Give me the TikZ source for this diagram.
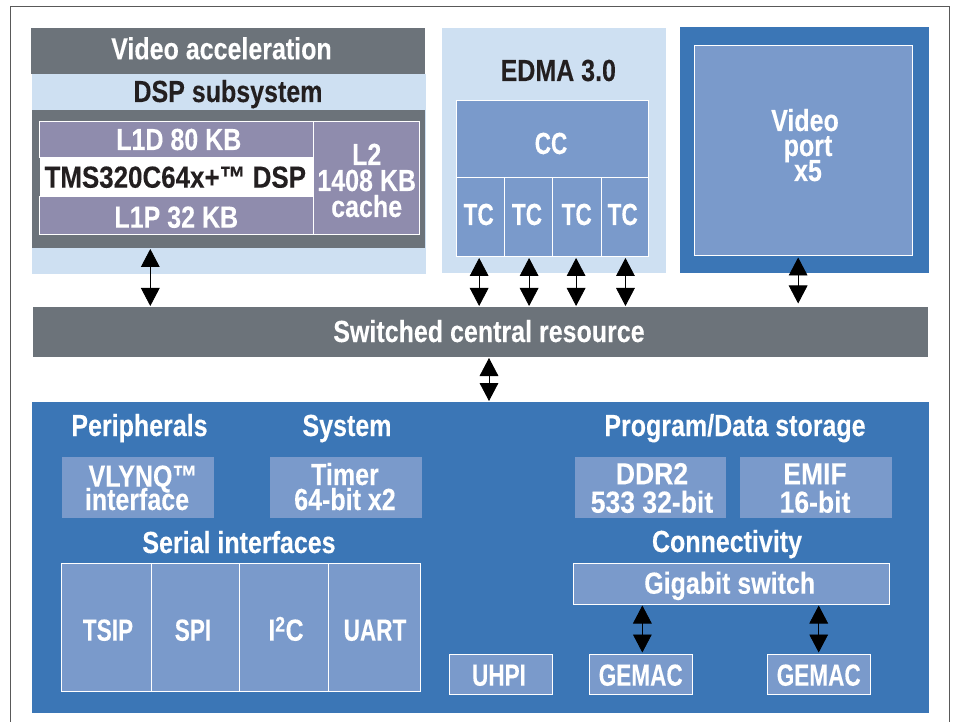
\documentclass[tikz,border=0pt]{standalone}
\usepackage{fontspec}
\usetikzlibrary{arrows.meta}
\newfontfamily\hv[FakeStretch=0.82,FakeBold=0.15]{Liberation Sans}
\newfontfamily\hvn[FakeStretch=0.74,FakeBold=0.15]{Liberation Sans}
\newfontfamily\hvw[FakeStretch=0.87,FakeBold=0.15]{Liberation Sans}
\newfontfamily\hvt[FakeStretch=0.85,FakeBold=0.15]{Liberation Sans}
\definecolor{greyb}{HTML}{6C737A}
\definecolor{lightb}{HTML}{CEE0F2}
\definecolor{deepb}{HTML}{3B76B6}
\definecolor{midb}{HTML}{7A9ACB}
\definecolor{purp}{HTML}{8F8CAD}
\definecolor{ink}{HTML}{231F20}
\newcommand\boxn[6]{\node[#2,minimum width={(#5-#3)*1pt},minimum height={(#6-#4)*1pt}] (#1) at ({(#3+#5)/2},{(#4+#6)/2}) {};}
\lineskiplimit=-100pt
\tikzset{
  x=1pt,y=-1pt,
  base/.style={rectangle,inner sep=0pt,outer sep=0pt},
  greyfill/.style={base,fill=greyb},
  lightfill/.style={base,fill=lightb},
  deepfill/.style={base,fill=deepb},
  midfill/.style={base,fill=midb},
  midline/.style={base,fill=midb,draw=white,line width=1pt},
  purpline/.style={base,fill=purp,draw=white,line width=1pt},
  lab/.style={inner sep=0pt,outer sep=0pt,anchor=base,text=white,
    font=\hv\bfseries\fontsize{30.5}{25}\selectfont},
  narrowlab/.style={lab,font=\hvn\bfseries\fontsize{30.5}{25}\selectfont},
  widelab/.style={lab,font=\hvw\bfseries\fontsize{30.5}{25}\selectfont},
  tmslab/.style={lab,text=ink,font=\hvt\bfseries\fontsize{30.5}{25}\selectfont},
  darklab/.style={lab,text=ink},
  multi/.style={lab,align=center},
  bidir/.style={draw=black,line width=0.8pt,
    {Triangle[length=18pt,width=18.7pt]}-{Triangle[length=18pt,width=18.7pt]}},
}
\begin{document}
\begin{tikzpicture}
\useasboundingbox (0,0) rectangle (954,722);
\draw[draw=black!65,line width=1pt] (10,722) -- (10,7) -- (949,7) -- (949,722);

% DSP block
\boxn{dspbg}{lightfill}{32}{74}{426}{274}
\boxn{vacc}{greyfill}{31}{28}{425}{74}
\boxn{dspcore}{greyfill}{32}{110}{425}{248}
\boxn{l1d}{purpline}{39.5}{121.5}{313.5}{158}
\boxn{l1p}{purpline}{39.5}{197}{313.5}{235}
\boxn{tms}{base,fill=white}{40}{158}{313}{197}
\boxn{l2}{purpline}{313.5}{121.5}{419.5}{235}
\node[lab] (tvacc) at (221.5,59.3) {Video acceleration};
\node[darklab] (tdsp) at (228,102) {DSP subsystem};
\node[lab] (tl1d) at (178.8,150) {L1D 80 KB};
\node[tmslab] (ttms) at (175.3,187.7) {TMS320C64x+™ DSP};
\node[lab] (tl1p) at (176.3,227.7) {L1P 32 KB};
\node[multi] (tl2) at (366.7,217) {L2\\[1pt]1408 KB\\[1pt]cache};

% EDMA
\boxn{edma}{lightfill}{442}{28}{666.3}{273}
\boxn{cc}{midline}{456.3}{101}{648.7}{178}
\boxn{tc1}{midline}{456.3}{178}{504}{257}
\boxn{tc2}{midline}{504}{178}{552.7}{257}
\boxn{tc3}{midline}{552.7}{178}{601}{257}
\boxn{tc4}{midline}{601}{178}{648.7}{257}
\node[darklab] (tedma) at (558.3,81) {EDMA 3.0};
\node[narrowlab] (tcc) at (551,154) {CC};
\node[narrowlab] (ttc1) at (478.7,225) {TC};
\node[narrowlab] (ttc2) at (527,225) {TC};
\node[narrowlab] (ttc3) at (576.7,225) {TC};
\node[narrowlab] (ttc4) at (622.7,225) {TC};

% Video port
\boxn{vpbg}{deepfill}{680.3}{27}{928.7}{273}
\boxn{vp}{midline}{694.3}{45.5}{912}{256}
\node[multi] (tvp) at (808,181) {Video\hspace*{6pt}\\port\\x5};

% Switched central resource
\boxn{scr}{greyfill}{33}{307}{928}{357}
\node[lab] (tscr) at (489,342) {Switched central resource};

% Lower panel
\boxn{low}{deepfill}{32}{402}{928.7}{713}
\node[lab] (perit) at (139.5,436) {Peripherals};
\node[lab] (syst) at (347,436) {System};
\node[lab] (prgt) at (735,436) {Program/Data storage};
\node[lab] (sert) at (239,553) {Serial interfaces};
\node[lab] (cont) at (727,552) {Connectivity};
\boxn{vlynq}{midfill}{62}{457}{214}{518}
\boxn{timer}{midfill}{270}{457}{422}{518}
\boxn{ddr}{midfill}{574.7}{457}{726.3}{518}
\boxn{emif}{midfill}{740.3}{457}{891.7}{518}
\boxn{tsip}{midline}{61}{563.5}{151}{691.5}
\boxn{spi}{midline}{151}{563.5}{239.5}{691.5}
\boxn{iic}{midline}{239.5}{563.5}{328.5}{691.5}
\boxn{uart}{midline}{328.5}{563.5}{420.5}{691.5}
\boxn{giga}{midline}{573}{563.5}{889.3}{604}
\boxn{uhpi}{midline}{449}{654}{552}{694.5}
\boxn{gem1}{midline}{589.3}{654}{692}{694.5}
\boxn{gem2}{midline}{767.3}{654}{870.7}{694.5}
\node[multi] (tvly) at (137,510) {\hspace*{12pt}VLYNQ™\\[-1.7pt]interface};
\node[multi] (ttim) at (345,510) {Timer\\64-bit x2};
\node[multi,widelab] (tddr) at (652,512.7) {DDR2\\[3.4pt]533 32-bit};
\node[multi,widelab] (temif) at (815,512.7) {EMIF\\[3.4pt]16-bit};
\node[narrowlab] (ttsip) at (108,640.7) {TSIP};
\node[narrowlab] (tspi) at (193,640.7) {SPI};
\node[lab] (tiic) at (286,640.7) {I\textsuperscript{2}C};
\node[narrowlab] (tuart) at (375,640.7) {UART};
\node[lab] (tgiga) at (729.7,593.7) {Gigabit switch};
\node[narrowlab] (tuhpi) at (499,685.7) {UHPI};
\node[narrowlab] (tgem1) at (640.7,685.7) {GEMAC};
\node[narrowlab] (tgem2) at (818.7,685.7) {GEMAC};

% Connectors
\draw[bidir,shorten >=1pt,shorten <=1pt] ([xshift=-78.2pt]dspcore.south) -- ([xshift=-78.2pt]dspcore.south |- scr.north);
\draw[bidir,shorten >=1pt,shorten <=1pt] ([xshift=-1pt]tc1.south) -- ([xshift=-1pt]tc1.south |- scr.north);
\draw[bidir,shorten >=1pt,shorten <=1pt] ([xshift=.75pt]tc2.south) -- ([xshift=.75pt]tc2.south |- scr.north);
\draw[bidir,shorten >=1pt,shorten <=1pt] ([xshift=-.75pt]tc3.south) -- ([xshift=-.75pt]tc3.south |- scr.north);
\draw[bidir,shorten >=1pt,shorten <=1pt] ([xshift=.6pt]tc4.south) -- ([xshift=.6pt]tc4.south |- scr.north);
\draw[bidir,shorten >=3.5pt,shorten <=1.5pt] ([xshift=-5pt]vp.south) -- ([xshift=-5pt]vp.south |- scr.north);
\draw[bidir,shorten >=1pt,shorten <=1pt] ([xshift=8.5pt]scr.south) -- ([xshift=8.5pt]scr.south |- low.north);
\draw[bidir,shorten >=1.5pt,shorten <=1.5pt] ([xshift=1.7pt]gem1.north) -- ([xshift=1.7pt]gem1.north |- giga.south);
\draw[bidir,shorten >=1.5pt,shorten <=1.5pt] ([xshift=-.3pt]gem2.north) -- ([xshift=-.3pt]gem2.north |- giga.south);
\end{tikzpicture}
\end{document}
